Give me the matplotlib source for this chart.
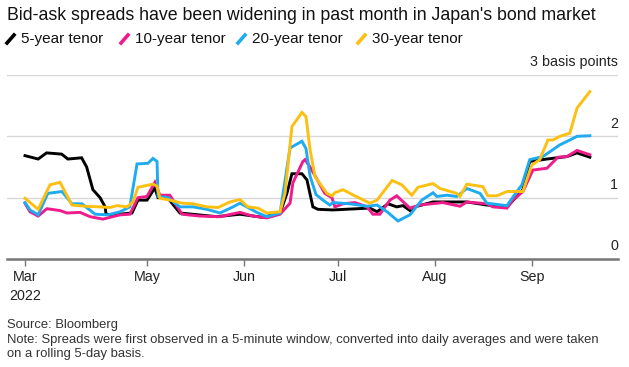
import numpy as np
import pandas as pd
import matplotlib
matplotlib.use("Agg")
import matplotlib.pyplot as plt
from matplotlib.lines import Line2D

plt.rcParams['font.family'] = ['Liberation Sans', 'DejaVu Sans']

# day offsets from first observation (2022-03-23) and spreads in basis points
start = pd.Timestamp('2022-03-23')

days_5y = [0, 4.2, 6.9, 11.7, 13.7, 18.1, 19.7, 21.7, 24, 25.6, 25.9, 28.1, 34.2, 36.1, 39,
           41.5, 42.5, 45.4, 49.5, 61.3, 68.7, 76, 81.5, 83.7, 85.3, 88.5, 90.1, 92, 93.6, 98.4,
           110.2, 112.5, 116, 118.8, 120.8, 123.6, 124.6, 130.4, 141.2, 147.6, 154, 157.2,
           159.1, 161.3, 166.8, 173.2, 176.4, 180.5]
vals_5y = [1.685, 1.63, 1.73, 1.71, 1.63, 1.65, 1.5, 1.13, 1.0, 0.85, 0.73, 0.72, 0.75, 0.96, 0.96,
           1.16, 1.0, 1.01, 0.75, 0.69, 0.73, 0.68, 0.75, 1.07, 1.39, 1.39, 1.29, 0.85, 0.81, 0.8,
           0.83, 0.77, 0.9, 0.85, 0.87, 0.77, 0.85, 0.93, 0.93, 0.88, 0.85, 1.02,
           1.13, 1.59, 1.63, 1.67, 1.73, 1.66]

days_10y = [0, 1.6, 4.2, 7, 11.2, 13.4, 17.6, 20.8, 24.9, 27.2, 30.4, 33.5, 36.1, 39, 41.5, 43.1,
            46.3, 50.2, 55.9, 62.3, 68.7, 72.8, 77.3, 81.5, 84.7, 85.6, 88.8, 89.5, 91.1, 93.3,
            95.8, 98.1, 99, 101.6, 105.4, 109.3, 111.2, 113.4, 116.6, 118.8, 123, 126.2, 133.5,
            139, 141.2, 147.6, 149.5, 154, 155.9, 159.1, 162.3, 166.8, 170.3, 173.2, 176.4, 180.5]
vals_10y = [0.91, 0.77, 0.70, 0.82, 0.79, 0.75, 0.76, 0.69, 0.65, 0.68, 0.72, 0.73, 1.0, 1.02, 1.25, 1.04,
            1.04, 0.73, 0.70, 0.69, 0.76, 0.70, 0.67, 0.73, 0.91, 1.24, 1.59, 1.62, 1.5, 1.3,
            1.07, 1.0, 0.85, 0.9, 0.92, 0.85, 0.73, 0.73, 0.96, 1.03, 0.83, 0.88, 0.92,
            0.86, 0.93, 0.9, 0.85, 0.83, 0.96, 1.1, 1.45, 1.48, 1.66, 1.67, 1.77, 1.70]

days_20y = [0, 1.6, 4.2, 7.3, 11.8, 15, 18.2, 22.4, 26.5, 30.4, 33.5, 35.8, 39.3, 40.9, 42.2, 42.5,
            45.7, 49.5, 53.7, 58.1, 62.3, 66.5, 68.7, 74.1, 77.3, 81.5, 84.7, 88.5, 89.8, 91.1,
            93, 95.2, 97.4, 98.4, 103.8, 109.3, 112.5, 115.7, 119.2, 123, 126.8, 130.4, 131.6,
            134.8, 138, 141.2, 145.4, 147.6, 154, 157.2, 158.8, 161.3, 165.5, 170.9, 174.1,
            176.4, 180.5]
vals_20y = [0.92, 0.8, 0.72, 1.07, 1.1, 0.9, 0.9, 0.73, 0.72, 0.77, 0.85, 1.55, 1.56, 1.64, 1.59, 1.02,
            1.0, 0.85, 0.85, 0.81, 0.75, 0.85, 0.91, 0.76, 0.69, 0.75, 1.81, 1.92, 1.8, 1.35,
            1.05, 0.96, 0.88, 0.92, 0.9, 0.86, 0.88, 0.77, 0.62, 0.72, 0.96, 1.08, 1.02,
            1.04, 1.02, 1.15, 1.07, 0.91, 0.87, 1.1, 1.21, 1.62, 1.67, 1.86, 1.94,
            2.0, 2.01]

days_30y = [0, 4.2, 8, 11.2, 15, 19.2, 24, 27.2, 29.4, 32.6, 34.5, 36.1, 40.9, 42.2, 43.1, 46.3,
            50.2, 53.7, 58.1, 61.7, 65.5, 68.7, 71.2, 74.4, 77.3, 81.5, 83.1, 85.3, 88.5, 89.8,
            91.1, 92.7, 96.5, 98.1, 99, 101.6, 105.4, 110.2, 112.5, 117.3, 120.4, 123.6, 125.6,
            130.4, 132.6, 138, 139, 141.2, 146.3, 147.9, 150.8, 154, 159.1, 161.9, 164.5, 167.1,
            168.7, 170.9, 174.1, 176.4, 180.5]
vals_30y = [0.99, 0.81, 1.21, 1.25, 0.88, 0.86, 0.85, 0.84, 0.87, 0.85, 0.93, 1.17, 1.22, 1.19, 0.99, 0.96,
            0.91, 0.9, 0.85, 0.84, 0.93, 0.97, 0.85, 0.83, 0.75, 0.77, 1.07, 2.16, 2.39, 2.32,
            1.78, 1.34, 1.07, 1.03, 1.08, 1.13, 1.03, 0.91, 0.96, 1.28, 1.21, 1.04, 1.17,
            1.23, 1.15, 1.07, 1.02, 1.22, 1.18, 1.03, 1.03, 1.1, 1.1, 1.53, 1.62, 1.94,
            1.94, 2.0, 2.05, 2.46, 2.73]

labels = ['5-year tenor', '10-year tenor', '20-year tenor', '30-year tenor']
colors = ['#000000', '#ee1b8b', '#1fabf0', '#fbc012']
series = [(days_5y, vals_5y), (days_10y, vals_10y), (days_20y, vals_20y), (days_30y, vals_30y)]

tick_dates = ['2022-03-23', '2022-05-01', '2022-06-01', '2022-07-01', '2022-08-01', '2022-09-01']
tick_labels = ['Mar\n2022', 'May', 'Jun', 'Jul', 'Aug', 'Sep']

W, H = 629, 367
fig = plt.figure(figsize=(W / 100, H / 100), dpi=100)
ax = fig.add_axes([7 / W, 1 - 259 / H, (618 - 7) / W, (259 - 75) / H])

for (d, v), c in zip(series, colors):
    x = start + pd.to_timedelta(d, unit='D')
    ax.plot(x, v, color=c, lw=2.1, solid_joinstyle='miter', clip_on=False)

ax.set_ylim(0, 3)
ax.set_xlim(start - pd.Timedelta(days=5.75), start + pd.Timedelta(days=189.5))
for s in ['top', 'right', 'left']:
    ax.spines[s].set_visible(False)
ax.spines['bottom'].set_color('#777777')
ax.spines['bottom'].set_linewidth(1.8)
ax.set_yticks([1, 2, 3])
ax.yaxis.grid(True, color='#d8d8d8', lw=1)
ax.tick_params(axis='y', length=0, labelleft=False)
ax.set_axisbelow(True)

ax.set_xticks(pd.to_datetime(tick_dates))
ax.set_xticklabels(tick_labels, fontsize=10.3, color='#222222', linespacing=1.4)
ax.tick_params(axis='x', direction='out', length=5, width=1, color='#777777', pad=3)
for lab in ax.get_xticklabels():
    lab.set_verticalalignment('top')

# right-side value labels above gridlines
ylabels = {0: '0', 1: '1', 2: '2', 3: '3 basis points'}
for v, t in ylabels.items():
    ax.annotate(t, xy=(1.0, v), xycoords=('axes fraction', 'data'),
                xytext=(0, 4), textcoords='offset points',
                ha='right', va='bottom', fontsize=10.3, color='#222222')

fig.text(7 / W, 1 - 15 / H, "Bid-ask spreads have been widening in past month in Japan's bond market",
         fontsize=12.8, color='#111111', va='center', ha='left')

# legend row
leg_x = [21, 135, 252, 372]
for x0, lab, c in zip(leg_x, labels, colors):
    fig.add_artist(Line2D([(x0 - 14) / W, (x0 - 7) / W], [1 - 43 / H, 1 - 35 / H],
                          transform=fig.transFigure, color=c, lw=2.6))
    fig.text(x0 / W, 1 - 39 / H, lab, fontsize=11, color='#111111', va='center', ha='left')

fig.text(7 / W, 1 - 325 / H, 'Source: Bloomberg', fontsize=9.4, color='#333333', va='center')
fig.text(7 / W, 1 - 347 / H,
         'Note: Spreads were first observed in a 5-minute window, converted into daily averages and were taken\n'
         'on a rolling 5-day basis.', fontsize=9.4, color='#333333', va='center', linespacing=1.25)

fig.savefig('out.png', dpi=100)
